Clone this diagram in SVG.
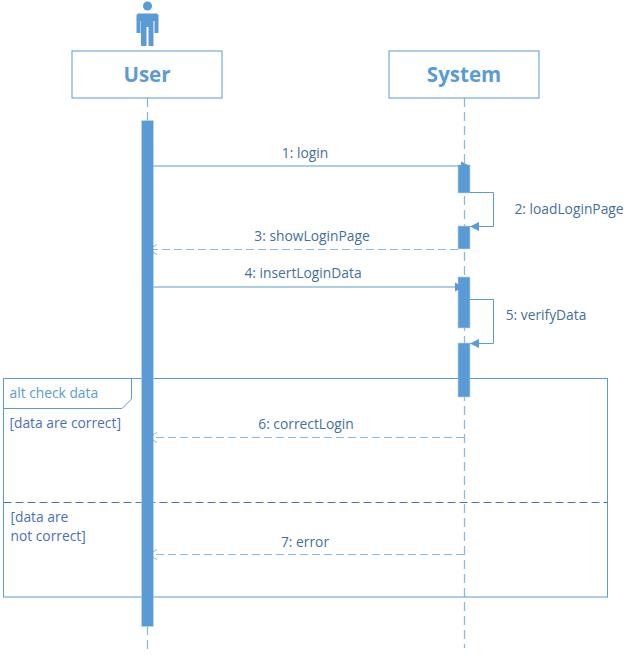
<svg xmlns="http://www.w3.org/2000/svg" width="633" height="655" viewBox="0 0 633 655">
<style>
text{font-family:"Open Sans","Noto Sans","Liberation Sans",sans-serif}
.box{fill:#fff;stroke:#5b9bd5;stroke-width:1}
.name{font-size:20.500px;font-weight:700;fill:#5b9bd5;text-anchor:middle}
.act{fill:#5b9bd5;stroke:#bdd7ee;stroke-width:.6}
.life{fill:none;stroke:#5b9bd5;stroke-width:1.300;stroke-dasharray:9 5;opacity:.7}
.msg{fill:none;stroke:#5b9bd5;stroke-width:1}
.ret{fill:none;stroke:#5b9bd5;stroke-width:1.200;stroke-dasharray:8 4;opacity:.7}
.lbl{font-size:13.800px;fill:#44709d;text-anchor:middle}
.grd{font-size:13.800px;fill:#4a6fc0}
.tab{font-size:13.800px;fill:#5b9bd5}
</style>
<defs>
<marker id="solid" markerUnits="userSpaceOnUse" markerWidth="12" markerHeight="12" refX="9" refY="6" orient="auto"><path d="M0 1.500L9 6L0 10.500Z" fill="#5b9bd5"/></marker>
<marker id="open" markerUnits="userSpaceOnUse" markerWidth="12" markerHeight="12" refX="10" refY="6" orient="auto"><path d="M1 1L10 6L1 11" fill="none" stroke="#5b9bd5" stroke-width="1"/></marker>
</defs>
<g id="frame">
<rect x="3.500" y="378.500" width="604" height="218.500" fill="none" stroke="#5b9bd5"/>
<path d="M3.500 408.500H122L131.500 399V378.500" fill="none" stroke="#5b9bd5"/>
<path d="M3.500 502.500H607.500" fill="none" stroke="#4472c4" stroke-dasharray="8 4"/>
<text class="tab" x="9.500" y="398">alt check data</text>
<text class="grd" x="9.500" y="428">[data are correct]</text>
<text class="grd" x="10.500" y="522">[data are</text>
<text class="grd" x="10.500" y="541">not correct]</text>
</g>
<g id="user">
<g id="user-icon" fill="#5b9bd5">
<circle cx="147.500" cy="6" r="4.500"/>
<path d="M138 13.500H157L158.500 15V33H154.500V21H153.500V46H148.500V27H146.500V46H141V21H140.500V33H136.500V15Z"/>
</g>
<path class="life" d="M147.500 98V121M147.500 626V654"/>
<rect class="box" x="72" y="51" width="150" height="47"/>
<text class="name" x="147" y="82">User</text>
<rect class="act" x="141.500" y="120.500" width="12" height="506"/>
</g>
<g id="system">
<path class="life" d="M464.500 98V648"/>
<rect class="box" x="389" y="51" width="150" height="47"/>
<text class="name" x="464" y="82">System</text>
<rect class="act" x="458" y="165" width="12" height="28"/>
<rect class="act" x="458" y="226" width="12" height="23"/>
<rect class="act" x="458" y="277" width="12" height="51"/>
<rect class="act" x="458" y="343" width="12" height="54"/>
</g>
<g id="connectors">
<path class="msg" d="M153.500 166H470" marker-end="url(#solid)"/>
<path class="msg" d="M470 192.500H493.500V226.500H470" marker-end="url(#solid)"/>
<path class="ret" d="M458 249.500H148" marker-end="url(#open)"/>
<path class="msg" d="M153.500 287H464" marker-end="url(#solid)"/>
<path class="msg" d="M470 299.500H493.500V343.500H470" marker-end="url(#solid)"/>
<path class="ret" d="M464 437.500H148" marker-end="url(#open)"/>
<path class="ret" d="M464 554.500H148" marker-end="url(#open)"/>
</g>
<g id="labels">
<text class="lbl" x="305" y="158">1: login</text>
<text class="lbl" x="569" y="213.500">2: loadLoginPage</text>
<text class="lbl" x="312" y="240.500">3: showLoginPage</text>
<text class="lbl" x="303" y="277.500">4: insertLoginData</text>
<text class="lbl" x="546" y="319.500">5: verifyData</text>
<text class="lbl" x="306" y="429">6: correctLogin</text>
<text class="lbl" x="305" y="547">7: error</text>
</g>
</svg>
